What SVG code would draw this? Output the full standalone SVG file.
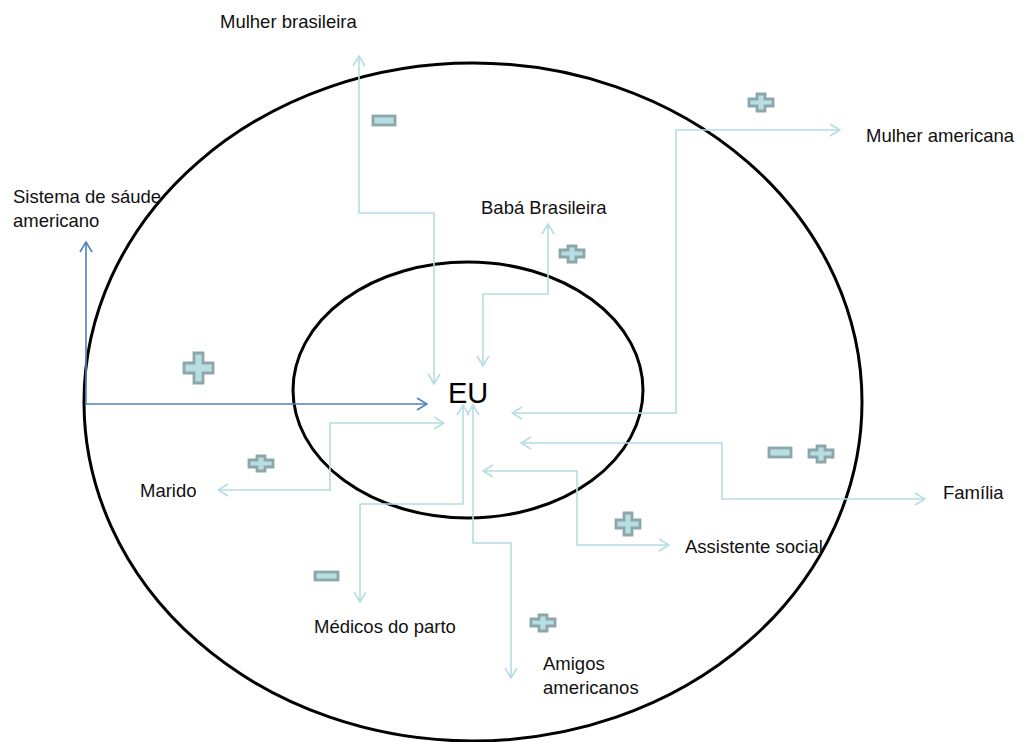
<svg xmlns="http://www.w3.org/2000/svg" width="1024" height="742" viewBox="0 0 1024 742">
  <defs>
    <marker id="arrTeal" viewBox="0 0 12 14" refX="11" refY="7" markerWidth="12" markerHeight="14" markerUnits="userSpaceOnUse" orient="auto-start-reverse">
      <path d="M1,1 L11,7 L1,13" fill="none" stroke="#b5dde2" stroke-width="1.6"/>
    </marker>
    <marker id="arrBlue" viewBox="0 0 12 14" refX="11" refY="7" markerWidth="12" markerHeight="14" markerUnits="userSpaceOnUse" orient="auto-start-reverse">
      <path d="M1,1 L11,7 L1,13" fill="none" stroke="#4f81bd" stroke-width="1.6"/>
    </marker>
  </defs>
  <style>
    .ring { fill: none; stroke: #000; stroke-width: 3; }
    .link { fill: none; stroke: #b5dde2; stroke-width: 1.6; }
    .blue { fill: none; stroke: #4f81bd; stroke-width: 1.6; }
    .lbl { font-family: "Liberation Sans", Arial, sans-serif; font-size: 18.5px; fill: #111; }
    .sign { fill: #b7dee2; stroke: #8ca6a9; stroke-width: 2.8; stroke-linejoin: miter; }
  </style>
  <rect width="1024" height="742" fill="#fff"/>

  <!-- concentric rings -->
  <g id="rings">
    <ellipse class="ring" cx="473" cy="402" rx="389" ry="339"/>
    <ellipse class="ring" cx="468" cy="390" rx="175" ry="128"/>
  </g>

  <!-- connectors -->
  <g id="connectors">
    <path class="link" d="M434,384 L434,213 L359,213 L359,56" marker-start="url(#arrTeal)" marker-end="url(#arrTeal)"/>
    <path class="link" d="M483,366 L483,294 L548,294 L548,224" marker-start="url(#arrTeal)" marker-end="url(#arrTeal)"/>
    <path class="link" d="M512,413 L676,413 L676,130 L840,130" marker-start="url(#arrTeal)" marker-end="url(#arrTeal)"/>
    <path class="link" d="M521,443 L722,443 L722,499 L925,499" marker-start="url(#arrTeal)" marker-end="url(#arrTeal)"/>
    <path class="link" d="M483,471 L577,471 L577,545 L669,545" marker-start="url(#arrTeal)" marker-end="url(#arrTeal)"/>
    <path class="link" d="M444,423 L330,423 L330,490 L218,490" marker-start="url(#arrTeal)" marker-end="url(#arrTeal)"/>
    <path class="link" d="M463,405 L463,504 L360,504 L360,602" marker-start="url(#arrTeal)" marker-end="url(#arrTeal)"/>
    <path class="link" d="M473,405 L473,543 L511,543 L511,678" marker-start="url(#arrTeal)" marker-end="url(#arrTeal)"/>
    <path class="blue" d="M86,242 L86,404 L427,404" marker-start="url(#arrBlue)" marker-end="url(#arrBlue)"/>
  </g>

  <!-- plus / minus markers -->
  <g id="signs">
    <rect class="sign" x="373" y="116" width="22" height="9"/>
    <polygon class="sign" points="757,94 765,94 765,99 773,99 773,106 765,106 765,111 757,111 757,106 749,106 749,99 757,99"/>
    <polygon class="sign" points="568,246 576,246 576,250 584,250 584,257 576,257 576,262 568,262 568,257 560,257 560,250 568,250"/>
    <polygon class="sign" points="194,353 203,353 203,363 213,363 213,373 203,373 203,383 194,383 194,373 184,373 184,363 194,363"/>
    <polygon class="sign" points="257,456 265,456 265,460 273,460 273,467 265,467 265,471 257,471 257,467 249,467 249,460 257,460"/>
    <rect class="sign" x="769" y="448" width="22" height="9"/>
    <polygon class="sign" points="817,446 825,446 825,450 833,450 833,457 825,457 825,462 817,462 817,457 809,457 809,450 817,450"/>
    <polygon class="sign" points="624,513 632,513 632,520 640,520 640,528 632,528 632,535 624,535 624,528 616,528 616,520 624,520"/>
    <rect class="sign" x="315" y="572" width="23" height="8"/>
    <polygon class="sign" points="539,615 547,615 547,619 555,619 555,626 547,626 547,631 539,631 539,626 531,626 531,619 539,619"/>
  </g>

  <!-- nodes -->
  <g id="node-eu"><text x="448" y="403" font-family="Liberation Sans, Arial, sans-serif" font-size="29">EU</text></g>
  <g id="node-mulher-brasileira"><text class="lbl" x="220" y="28">Mulher brasileira</text></g>
  <g id="node-mulher-americana"><text class="lbl" x="866" y="142">Mulher americana</text></g>
  <g id="node-sistema-saude"><text class="lbl" x="13" y="203">Sistema de sáude</text><text class="lbl" x="13" y="227">americano</text></g>
  <g id="node-baba-brasileira"><text class="lbl" x="481" y="214">Babá Brasileira</text></g>
  <g id="node-marido"><text class="lbl" x="140" y="497">Marido</text></g>
  <g id="node-familia"><text class="lbl" x="943" y="499">Família</text></g>
  <g id="node-assistente-social"><text class="lbl" x="685" y="553">Assistente social</text></g>
  <g id="node-medicos-parto"><text class="lbl" x="314" y="633">Médicos do parto</text></g>
  <g id="node-amigos-americanos"><text class="lbl" x="543" y="670">Amigos</text><text class="lbl" x="543" y="694">americanos</text></g>
</svg>
